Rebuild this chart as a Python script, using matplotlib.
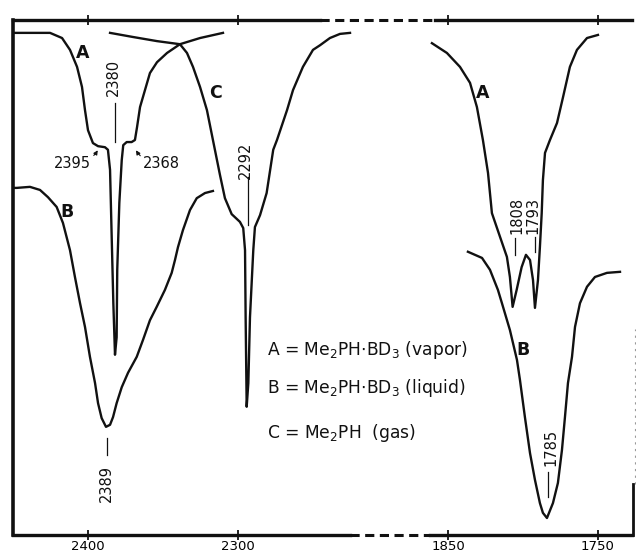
import numpy as np
import matplotlib
matplotlib.use('Agg')
import matplotlib.pyplot as plt
from matplotlib.ticker import NullLocator

# traced spectra: wavenumber (cm-1) vs pen position (% of chart height)
a_left_wn = [2450, 2438.7, 2425.3, 2417.3, 2412, 2407.3, 2404, 2402, 2400,
             2396.7, 2393.3, 2388.7, 2386.7, 2385.3, 2384.2, 2383.1, 2382,
             2380.9, 2380.5, 2379.1, 2377.5, 2376.5, 2374.2, 2370.9, 2368.7,
             2367.3, 2365.3, 2362, 2358.7, 2354, 2347.3, 2338.7, 2325.3, 2310]
a_left_t = [97.5, 97.5, 97.5, 96.5, 94.2, 90.9, 87.0, 82.5, 78.6,
            76.1, 75.5, 75.3, 74.8, 70.9, 57.9, 45.0, 35.0,
            38.4, 51.5, 64.5, 72.8, 75.7, 76.3, 76.3, 76.7,
            79.2, 83.1, 86.4, 89.7, 91.8, 93.6, 95.3, 96.5, 97.5]

c_wn = [2385.3, 2370, 2354, 2338.7, 2334, 2330, 2325.3, 2320.7, 2316.7,
        2312, 2308.7, 2304.2, 2298.7, 2296.5, 2295.3, 2294.9, 2294.2,
        2293.1, 2292, 2289.8, 2288.7, 2285.3, 2280.9, 2276.5, 2274,
        2267.3, 2263.3, 2256.7, 2250, 2245.3, 2238.7, 2232, 2225.3]
c_t = [97.5, 96.7, 95.9, 95.3, 93.6, 90.9, 87.0, 82.5, 76.7,
       69.9, 65.4, 62.3, 60.8, 59.6, 55.3, 42.3, 24.9,
       29.5, 42.3, 55.3, 59.8, 62.1, 66.4, 74.8, 76.7,
       82.5, 86.4, 90.9, 94.2, 95.1, 96.5, 97.3, 97.5]

b_left_wn = [2450, 2447.5, 2438.7, 2432, 2426.7, 2420.9, 2416.7, 2412,
             2408.7, 2405.3, 2402, 2398.7, 2395.3, 2393.3, 2390.9, 2388,
             2385.3, 2383.3, 2380.9, 2377.5, 2373.3, 2367.5, 2363.3, 2358.7,
             2354.2, 2348.7, 2344.2, 2342, 2340, 2336.7, 2332, 2327.5, 2322,
             2316.7]
b_left_t = [67.4, 67.4, 67.6, 67.0, 65.6, 63.7, 60.6, 55.3,
            50.1, 45.0, 40.4, 34.6, 29.5, 25.6, 22.7, 21.0,
            21.4, 22.9, 25.6, 28.7, 31.5, 34.6, 37.9, 41.7,
            44.3, 47.6, 50.9, 53.4, 55.9, 59.2, 63.1, 65.4, 66.4,
            66.8]

a_right_wn = [1860.7, 1850.7, 1842, 1835.3, 1830.7, 1826.7, 1823.3, 1820.7,
              1815.3, 1810.7, 1808.7, 1806.9, 1804.2, 1800.9, 1798, 1795.3,
              1793.3, 1792, 1790, 1788.7, 1787.5, 1786.7, 1785.3, 1782,
              1777.3, 1773.3, 1768.7, 1764, 1757.3, 1750]
a_right_t = [95.5, 93.6, 90.9, 87.8, 83.1, 76.7, 70.3, 62.5,
             57.9, 54.0, 50.1, 44.3, 47.6, 52.0, 54.4, 53.4,
             49.5, 44.1, 49.5, 55.9, 62.5, 68.9, 74.2, 76.7,
             80.0, 85.0, 90.9, 94.2, 96.5, 97.1]

b_right_wn = [1836.7, 1827.3, 1822, 1816.7, 1814, 1808.7, 1804, 1802,
              1798.7, 1795.3, 1792, 1788.7, 1786.7, 1784, 1780, 1776.7,
              1774, 1772, 1770, 1767.3, 1765.3, 1762, 1757.3, 1752, 1744,
              1735.3]
b_right_t = [55.0, 53.8, 51.5, 47.6, 45.0, 39.8, 34.0, 30.1,
             22.9, 15.9, 10.7, 6.2, 4.3, 3.3, 6.2, 10.1,
             16.5, 22.9, 29.5, 34.6, 40.4, 45.0, 48.2, 50.1, 50.9,
             51.1]

tick_wn = [2400, 2300, 1850, 1750]
tick_labels = ['2400', '2300', '1850', '1750']

legend_lines = [r'A = Me$_2$PH$\cdot$BD$_3$ (vapor)',
                r'B = Me$_2$PH$\cdot$BD$_3$ (liquid)',
                r'C = Me$_2$PH  (gas)']

# broken wavenumber axis: both halves 1.5 px per cm-1, gap squeezed
BREAK_WN = [1000, 1862, 2225, 3000]
BREAK_POS = [1723, 430, 350.5, -812]


def fwd(wn):
    return -np.interp(wn, BREAK_WN, BREAK_POS)


def inv(v):
    return np.interp(-np.asarray(v), BREAK_POS[::-1], BREAK_WN[::-1])


fig = plt.figure(figsize=(6.36, 5.55), dpi=100)
ax = fig.add_axes([13 / 636, 20 / 555, 619 / 636, 515 / 555])
ax.set_xscale('function', functions=(fwd, inv))
ax.set_xlim(2450, 1727.3)
ax.set_ylim(0, 100)

ink = '#111111'
lw = 1.7
for wn, t in [(a_left_wn, a_left_t), (c_wn, c_t), (b_left_wn, b_left_t),
              (a_right_wn, a_right_t), (b_right_wn, b_right_t)]:
    ax.plot(wn, t, color=ink, lw=lw, solid_joinstyle='round')

# frame: solid left spine, top/bottom with dashed break
for s in ['top', 'bottom', 'right']:
    ax.spines[s].set_visible(False)
ax.spines['left'].set_linewidth(2.6)
ax.spines['left'].set_color(ink)
xt = ax.get_xaxis_transform()
dash = (0, (3, 1.8))
ax.plot([2450, 2245.3], [1, 1], color=ink, lw=2.4, transform=xt, clip_on=False)
ax.plot([2245.3, 1858.7], [1, 1], color=ink, lw=2.2, ls=dash, transform=xt, clip_on=False)
ax.plot([1858.7, 1727.3], [1, 1], color=ink, lw=2.4, transform=xt, clip_on=False)
ax.plot([2450, 2225.3], [0, 0], color=ink, lw=2.4, transform=xt, clip_on=False)
ax.plot([2225.3, 1862], [0, 0], color=ink, lw=2.2, ls=dash, transform=xt, clip_on=False)
ax.plot([1862, 1727.3], [0, 0], color=ink, lw=2.4, transform=xt, clip_on=False)
ax.plot([1726.5, 1726.5], [0, 10], color=ink, lw=2.0, clip_on=False)
ax.plot([1725.5, 1725.5], [10, 40], color='#999999', lw=0.8, ls=(0, (2, 4)), clip_on=False)

ax.set_xticks(tick_wn)
ax.set_xticklabels(tick_labels)
ax.xaxis.set_minor_locator(NullLocator())
ax.tick_params(axis='x', top=True, bottom=True, direction='inout',
               length=7, width=1.3, color=ink, labelsize=9.5, pad=0)
ax.set_yticks([])

# curve letters
letter = dict(fontsize=12.5, fontweight='bold', color=ink, ha='center', va='center')
ax.text(2403.3, 93.6, 'A', **letter)
ax.text(2315.3, 85.8, 'C', **letter)
ax.text(2414.2, 62.8, 'B', **letter)
ax.text(1826.7, 85.8, 'A', **letter)
ax.text(1799.8, 35.9, 'B', **letter)

# rotated peak labels with leader lines
peak = dict(fontsize=10.5, rotation=90, ha='center', va='center', color=ink)
for x, y, s, lx, y1, y2 in [(2383.3, 88.9, '2380', 2382, 83.9, 76.3),
                            (2295.3, 72.8, '2292', 2293.5, 69.6, 60.2),
                            (2387.5, 10.0, '2389', 2387.5, 18.8, 15.5),
                            (1804.2, 62.1, '1808', 1805.3, 57.7, 54.4),
                            (1793.1, 62.0, '1793', 1792, 57.9, 55.0),
                            (1781.3, 17.0, '1785', 1783.5, 12.3, 7.4)]:
    ax.text(x, y, s, **peak)
    ax.plot([lx, lx], [y1, y2], color=ink, lw=0.9)

# shoulder labels with small curved arrows
ax.annotate('2395', xy=(2393.5, 74.7), xytext=(2398, 72.2), fontsize=10.5,
            ha='right', va='center', color=ink,
            arrowprops=dict(arrowstyle='-|>', lw=0.8, color=ink, mutation_scale=6,
                            shrinkA=0, shrinkB=0, connectionstyle='arc3,rad=0.3'))
ax.annotate('2368', xy=(2368, 74.7), xytext=(2363.3, 72.2), fontsize=10.5,
            ha='left', va='center', color=ink,
            arrowprops=dict(arrowstyle='-|>', lw=0.8, color=ink, mutation_scale=6,
                            shrinkA=0, shrinkB=0, connectionstyle='arc3,rad=-0.3'))

for s, y in zip(legend_lines, [35.9, 28.5, 19.8]):
    ax.text(2280.7, y, s, fontsize=12.3, ha='left', va='center', color=ink)

fig.savefig('out.png', dpi=100)
